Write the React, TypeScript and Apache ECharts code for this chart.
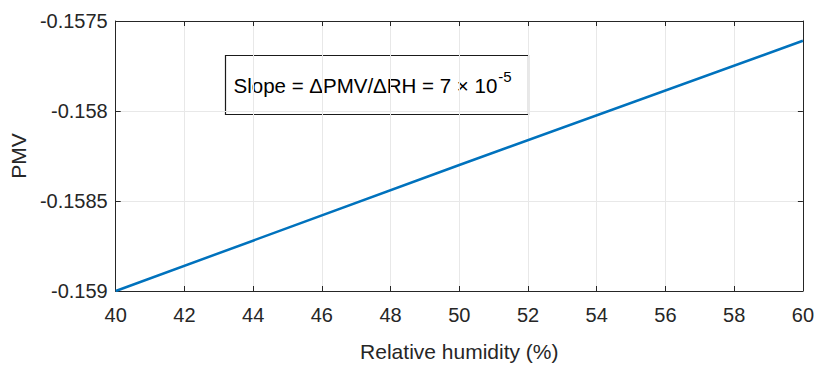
import React, { useEffect, useRef } from "react";
import * as echarts from "echarts";

const humidity = [40, 50, 60];
const pmv = [-0.159, -0.1583, -0.15761];
const xTicks = { min: 40, max: 60, interval: 2 };
const yTicks = { min: -0.159, max: -0.1575, interval: 0.0005 };
const annotation = "Slope = ΔPMV/ΔRH = 7 × 10";
const exponent = "-5";

export default function App() {
  const ref = useRef<HTMLDivElement>(null);
  useEffect(() => {
    document.body.style.margin = "0";
    const chart = echarts.init(ref.current!, null, { renderer: "svg" });
    const axisColor = "#262626";
    const font = "'Liberation Sans', Arial, Helvetica, sans-serif";
    const common = {
      axisLine: { lineStyle: { color: axisColor, width: 1 } },
      axisTick: { inside: true, length: 5, lineStyle: { color: axisColor } },
    };
    chart.setOption({
      animation: false,
      grid: { left: 115, right: 13, top: 21, bottom: 74 },
      xAxis: [
        {
          type: "value",
          ...xTicks,
          ...common,
          name: "Relative humidity (%)",
          nameLocation: "middle",
          nameGap: 50,
          nameTextStyle: { color: axisColor, fontSize: 21, fontFamily: font },
          axisLabel: { color: axisColor, fontSize: 20, fontFamily: font, margin: 14 },
          splitLine: { show: true, lineStyle: { color: "#e8e8e8" } },
        },
        {
          type: "value",
          position: "top",
          ...xTicks,
          ...common,
          axisLabel: { show: false },
          splitLine: { show: false },
        },
      ],
      yAxis: [
        {
          type: "value",
          ...yTicks,
          ...common,
          name: "PMV",
          nameLocation: "middle",
          nameGap: 84,
          nameTextStyle: { color: axisColor, fontSize: 21, fontFamily: font },
          axisLabel: {
            color: axisColor,
            fontSize: 20,
            fontFamily: font,
            margin: 8,
            formatter: (v: number) => String(parseFloat(v.toFixed(5))),
          },
          splitLine: { show: true, lineStyle: { color: "#e8e8e8" } },
        },
        {
          type: "value",
          position: "right",
          ...yTicks,
          ...common,
          axisLabel: { show: false },
          splitLine: { show: false },
        },
      ],
      graphic: [
        {
          type: "group",
          left: 223,
          top: 53,
          children: [
            {
              type: "rect",
              shape: { x: 0, y: 0, width: 303, height: 59 },
              style: { fill: "none", stroke: "#1a1a1a", lineWidth: 1.2 },
            },
            {
              type: "text",
              x: 8,
              y: 30,
              style: {
                text: `{m|${annotation}}{s|${exponent}}`,
                verticalAlign: "middle",
                rich: {
                  m: { fontSize: 20.5, fontFamily: font, fill: "#000" },
                  s: { fontSize: 15, fontFamily: font, fill: "#000", verticalAlign: "top", padding: [0, 0, 18, 1] },
                },
              },
            },
          ],
        },
      ],
      series: [
        {
          type: "line",
          data: humidity.map((h, i) => [h, pmv[i]]),
          showSymbol: false,
          lineStyle: { color: "#0072BD", width: 2.5 },
          itemStyle: { color: "#0072BD" },
        },
      ],
    });
    return () => chart.dispose();
  }, []);
  return <div ref={ref} style={{ width: 817, height: 367 }} />;
}
